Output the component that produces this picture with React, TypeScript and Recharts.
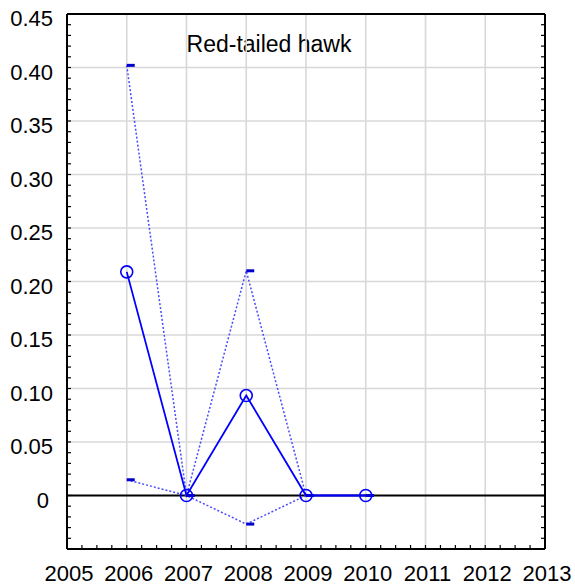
import React from "react";
import { ComposedChart, Line, XAxis, YAxis, ReferenceLine, Customized } from "recharts";

const years = [2006, 2007, 2008, 2009, 2010];
const meanValues = [0.209, 0, 0.0934, 0, 0];
const upperValues = [0.402, 0, 0.21, 0, 0];
const lowerValues = [0.0147, 0, -0.0267, 0, 0];

const xTickYears = [2005, 2006, 2007, 2008, 2009, 2010, 2011, 2012, 2013];
const yTickValues = [0, 0.05, 0.1, 0.15, 0.2, 0.25, 0.3, 0.35, 0.4, 0.45];
const yTickLabels = ["0", "0.05", "0.10", "0.15", "0.20", "0.25", "0.30", "0.35", "0.40", "0.45"];
const title = "Red-tailed hawk";

const X_DOMAIN: [number, number] = [2005, 2013];
const Y_DOMAIN: [number, number] = [-0.05, 0.45];

const xMinor: number[] = [];
for (let i = 0; i <= 32; i++) xMinor.push(2005 + i / 4);
const yMinor: number[] = [];
for (let i = -5; i <= 45; i++) yMinor.push(i / 100);

const rows = years.map((year, i) => ({
  year,
  mean: meanValues[i],
  upper: upperValues[i],
  lower: lowerValues[i],
}));

const FONT = "'Liberation Sans', Arial, sans-serif";
const BLUE = "#0000ff";
const DOT_BLUE = "#4a4aff";
const GRID = "#d8d8d8";

const DashMarker = (props: any) => {
  const { cx, cy, index } = props;
  if (cx == null || cy == null) return <g key={index} />;
  return <rect key={index} x={cx} y={cy - 1.5} width={8} height={3} fill="#0000cc" />;
};

const BottomTick = (props: any) => {
  const { x, y, payload } = props;
  const v = payload.value;
  const idx = xTickYears.findIndex((yr) => Math.abs(yr - v) < 1e-6);
  return (
    <g>
      <line x1={x} x2={x} y1={y} y2={y - 4} stroke="#000" strokeWidth={1.2} />
      {idx >= 0 && (
        <text x={x + 2} y={y + 32} textAnchor="middle" fontSize={22} fontFamily={FONT} fill="#000">
          {String(xTickYears[idx])}
        </text>
      )}
    </g>
  );
};

const TopTick = (props: any) => {
  const { x, y } = props;
  return <line x1={x} x2={x} y1={y} y2={y + 4} stroke="#000" strokeWidth={1.2} />;
};

const LeftTick = (props: any) => {
  const { x, y, payload } = props;
  const v = payload.value;
  const idx = yTickValues.findIndex((t) => Math.abs(t - v) < 1e-6);
  return (
    <g>
      <line x1={x} x2={x + 4} y1={y} y2={y} stroke="#000" strokeWidth={1.2} />
      {idx >= 0 && (
        <text
          x={idx === 0 ? x - 18 : x - 14}
          y={y + 12}
          textAnchor="end"
          fontSize={22}
          fontFamily={FONT}
          fill="#000"
        >
          {yTickLabels[idx]}
        </text>
      )}
    </g>
  );
};

const RightTick = (props: any) => {
  const { x, y } = props;
  return <line x1={x} x2={x - 4} y1={y} y2={y} stroke="#000" strokeWidth={1.2} />;
};

const Title = () => (
  <text x={269} y={52} textAnchor="middle" fontSize={23} fontFamily={FONT} fill="#000">
    {title}
  </text>
);

export default function App() {
  return (
    <div style={{ position: "fixed", left: 0, top: 0, background: "#fff" }}>
      <ComposedChart
        width={575}
        height={588}
        data={rows}
        margin={{ top: 0, right: 0, bottom: 0, left: 0 }}
      >
        {xTickYears.slice(1, -1).map((yr) => (
          <ReferenceLine key={"vx" + yr} x={yr} stroke={GRID} strokeWidth={1.6} />
        ))}
        {yTickValues.slice(1, -1).map((v) => (
          <ReferenceLine key={"hy" + v} y={v} stroke={GRID} strokeWidth={1.6} />
        ))}
        <ReferenceLine y={0} stroke="#000" strokeWidth={2} />
        <XAxis
          dataKey="year"
          type="number"
          domain={X_DOMAIN}
          ticks={xMinor}
          interval={0}
          height={39}
          tickSize={0}
          tickMargin={0}
          tickLine={false}
          axisLine={{ stroke: "#000", strokeWidth: 2 }}
          tick={BottomTick}
          allowDataOverflow
        />
        <XAxis
          xAxisId="top"
          orientation="top"
          type="number"
          domain={X_DOMAIN}
          ticks={xMinor}
          interval={0}
          height={14}
          tickSize={0}
          tickMargin={0}
          tickLine={false}
          axisLine={{ stroke: "#000", strokeWidth: 2 }}
          tick={TopTick}
          allowDataOverflow
        />
        <YAxis
          type="number"
          domain={Y_DOMAIN}
          ticks={yMinor}
          interval={0}
          width={67}
          tickSize={0}
          tickMargin={0}
          tickLine={false}
          axisLine={{ stroke: "#000", strokeWidth: 2 }}
          tick={LeftTick}
          allowDataOverflow
        />
        <YAxis
          yAxisId="right"
          orientation="right"
          type="number"
          domain={Y_DOMAIN}
          ticks={yMinor}
          interval={0}
          width={30}
          tickSize={0}
          tickMargin={0}
          tickLine={false}
          axisLine={{ stroke: "#000", strokeWidth: 2 }}
          tick={RightTick}
          allowDataOverflow
        />
        <Line
          dataKey="upper"
          stroke={DOT_BLUE}
          strokeWidth={1.5}
          strokeDasharray="2 2"
          dot={DashMarker}
          activeDot={false}
          isAnimationActive={false}
        />
        <Line
          dataKey="lower"
          stroke={DOT_BLUE}
          strokeWidth={1.5}
          strokeDasharray="2 2"
          dot={DashMarker}
          activeDot={false}
          isAnimationActive={false}
        />
        <Line
          dataKey="mean"
          stroke={BLUE}
          strokeWidth={1.8}
          dot={{ r: 6, stroke: BLUE, strokeWidth: 1.6, fill: "none" }}
          activeDot={false}
          isAnimationActive={false}
        />
        <Customized component={Title} />
      </ComposedChart>
    </div>
  );
}
